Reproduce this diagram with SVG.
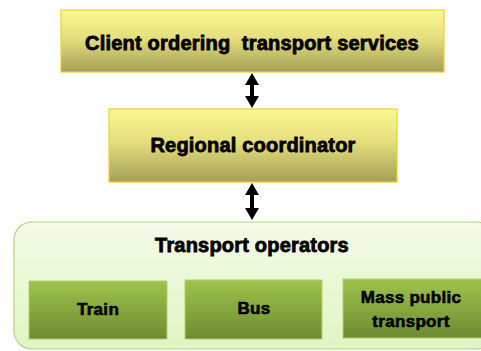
<svg xmlns="http://www.w3.org/2000/svg" width="481" height="351" viewBox="0 0 481 351">
<defs>
<linearGradient id="gy" x1="0" y1="0" x2="0" y2="1">
<stop offset="0" stop-color="#fbf992"/>
<stop offset="0.45" stop-color="#e4de7c"/>
<stop offset="1" stop-color="#a4a058"/>
</linearGradient>
<linearGradient id="gg" x1="0" y1="0" x2="0" y2="1">
<stop offset="0" stop-color="#9ec44b"/>
<stop offset="1" stop-color="#6d8b31"/>
</linearGradient>
<linearGradient id="gc" x1="0" y1="0" x2="0" y2="1">
<stop offset="0" stop-color="#f4fbe8"/>
<stop offset="1" stop-color="#e0f5c2"/>
</linearGradient>
</defs>
<style>
.yb{fill:url(#gy);stroke:#f1cf22;stroke-width:1.2}
.gb{fill:url(#gg);stroke:#b3d06e;stroke-width:1}
.ct{fill:url(#gc);stroke:#b2d588;stroke-width:1.2}
text{font-family:"Liberation Sans",Arial,sans-serif;font-weight:bold;fill:#000;stroke:#000;stroke-width:0.8;text-anchor:middle;white-space:pre}
.big{font-size:20px;letter-spacing:0.2px}
.sm{font-size:17px;stroke-width:0.6;letter-spacing:0.3px}
.arr{fill:#000}
</style>
<g id="client">
<rect class="yb" x="61" y="10" width="383" height="62"/>
<text class="big" x="252" y="50" xml:space="preserve">Client ordering  transport services</text>
</g>
<g id="regional">
<rect class="yb" x="109" y="109" width="288" height="73"/>
<text class="big" x="253" y="152">Regional coordinator</text>
</g>
<g id="operators">
<rect class="ct" x="14" y="222" width="480" height="127" rx="18" ry="18"/>
<text class="big" x="252" y="252">Transport operators</text>
</g>
<g id="train">
<rect class="gb" x="29" y="281" width="138" height="58"/>
<text class="sm" x="98" y="315">Train</text>
</g>
<g id="bus">
<rect class="gb" x="185" y="280" width="137" height="59"/>
<text class="sm" x="254" y="314">Bus</text>
</g>
<g id="mass">
<rect class="gb" x="343" y="279" width="140" height="59"/>
<text class="sm" x="411" y="303">Mass public</text>
<text class="sm" x="411" y="327">transport</text>
</g>
<g id="connectors">
<path class="arr" d="M252,73 L259,85 L254,85 L254,96 L259,96 L252,108 L245,96 L250,96 L250,85 L245,85 Z"/>
<path class="arr" d="M252,183 L259,195 L254,195 L254,208 L259,208 L252,220 L245,208 L250,208 L250,195 L245,195 Z"/>
</g>
</svg>
